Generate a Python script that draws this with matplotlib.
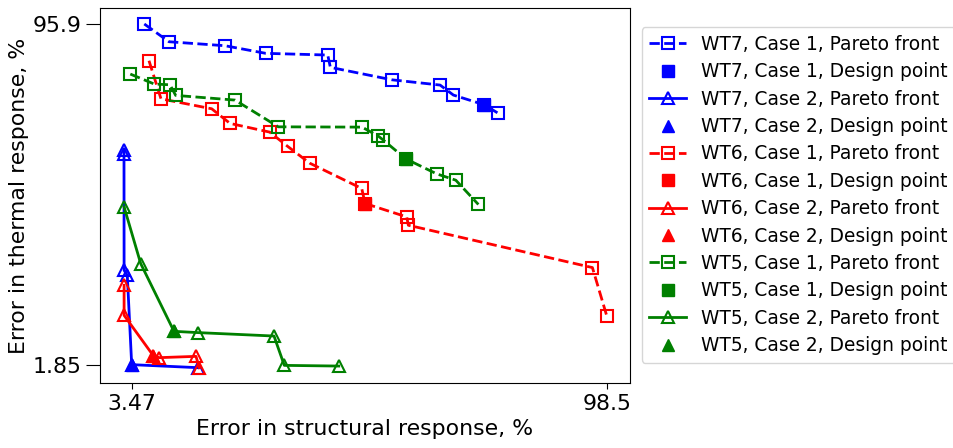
import matplotlib
matplotlib.use("Agg")
import matplotlib.pyplot as plt

# WT7
wt7_c1_x = [5.99, 10.93, 22.14, 30.28, 42.69, 43.21, 55.49, 65.16, 67.82, 74.02, 76.82]
wt7_c1_y = [95.9, 91.0, 89.9, 87.8, 87.33, 83.93, 80.5, 79.04, 76.28, 73.59, 71.22]
wt7_c1_design = (74.02, 73.59)
wt7_c2_x = [1.93, 1.93, 1.95, 2.59, 3.47, 16.8]
wt7_c2_y = [61.2, 60.0, 27.9, 26.5, 1.85, 1.01]
wt7_c2_design = (3.47, 1.85)

# WT6
wt6_c1_x = [6.93, 9.33, 19.48, 23.14, 31.08, 34.68, 39.08, 49.49, 50.15, 58.49, 58.81, 95.63, 98.51]
wt6_c1_y = [85.76, 75.25, 72.49, 68.45, 66.05, 62.1, 57.48, 50.49, 46.34, 42.64, 40.34, 28.65, 15.27]
wt6_c1_design = (50.15, 46.34)
wt6_c2_x = [1.95, 1.95, 7.79, 8.99, 16.33, 17.0]
wt6_c2_y = [23.76, 15.47, 4.33, 3.78, 4.14, 1.01]
wt6_c2_design = (7.79, 4.33)

# WT5
wt5_c1_x = [3.19, 7.99, 11.13, 12.27, 24.14, 32.8, 49.55, 52.81, 53.81, 58.29, 64.49, 68.3, 72.82]
wt5_c1_y = [82.08, 79.32, 79.12, 76.19, 74.89, 67.51, 67.43, 64.94, 63.84, 58.67, 54.52, 52.78, 46.07]
wt5_c1_design = (58.29, 58.67)
wt5_c2_x = [1.95, 5.27, 11.93, 16.8, 31.94, 34.0, 44.89]
wt5_c2_y = [45.4, 29.76, 11.05, 10.69, 9.75, 1.65, 1.46]
wt5_c2_design = (11.93, 11.05)

x_ticks = [3.47, 98.5]
x_tick_labels = ["3.47", "98.5"]
y_ticks = [1.85, 95.9]
y_tick_labels = ["1.85", "95.9"]

plt.rcParams['font.size'] = 15.8

fig = plt.figure(figsize=(9.54, 4.48), dpi=100)
ax = fig.add_axes([100/954, 1 - 383.3/448, 530/954, 375.6/448])

ms = 8
mew = 1.5
lw = 2
series = [
    ("WT7", "blue", wt7_c1_x, wt7_c1_y, wt7_c1_design, wt7_c2_x, wt7_c2_y, wt7_c2_design),
    ("WT6", "red", wt6_c1_x, wt6_c1_y, wt6_c1_design, wt6_c2_x, wt6_c2_y, wt6_c2_design),
    ("WT5", "green", wt5_c1_x, wt5_c1_y, wt5_c1_design, wt5_c2_x, wt5_c2_y, wt5_c2_design),
]
for name, col, c1x, c1y, c1d, c2x, c2y, c2d in series:
    ax.plot(c1x, c1y, linestyle='--', color=col, marker='s', markerfacecolor='none',
            markersize=ms, markeredgewidth=mew, linewidth=lw,
            label=f"{name}, Case 1, Pareto front")
    ax.plot([c1d[0]], [c1d[1]], linestyle='none', color=col, marker='s', markersize=ms,
            label=f"{name}, Case 1, Design point")
    ax.plot(c2x, c2y, linestyle='-', color=col, marker='^', markerfacecolor='none',
            markersize=ms, markeredgewidth=mew, linewidth=lw,
            label=f"{name}, Case 2, Pareto front")
    ax.plot([c2d[0]], [c2d[1]], linestyle='none', color=col, marker='^', markersize=ms,
            label=f"{name}, Case 2, Design point")

ax.set_xlim(-2.87, 103.15)
ax.set_ylim(-3.3, 100.4)
ax.set_xticks(x_ticks)
ax.set_xticklabels(x_tick_labels)
ax.set_yticks(y_ticks)
ax.set_yticklabels(y_tick_labels)
ax.tick_params(axis='y', length=10)
ax.tick_params(axis='x', length=4)
ax.set_xlabel("Error in structural response, %")
ax.set_ylabel("Error in thermal response, %", labelpad=2.2)

fig.legend(loc='center left', bbox_to_anchor=(641.7/954, 1 - 195/448),
           bbox_transform=fig.transFigure, borderaxespad=0, fontsize=13.4,
           labelspacing=0.45)

fig.savefig("out.png", dpi=100)
